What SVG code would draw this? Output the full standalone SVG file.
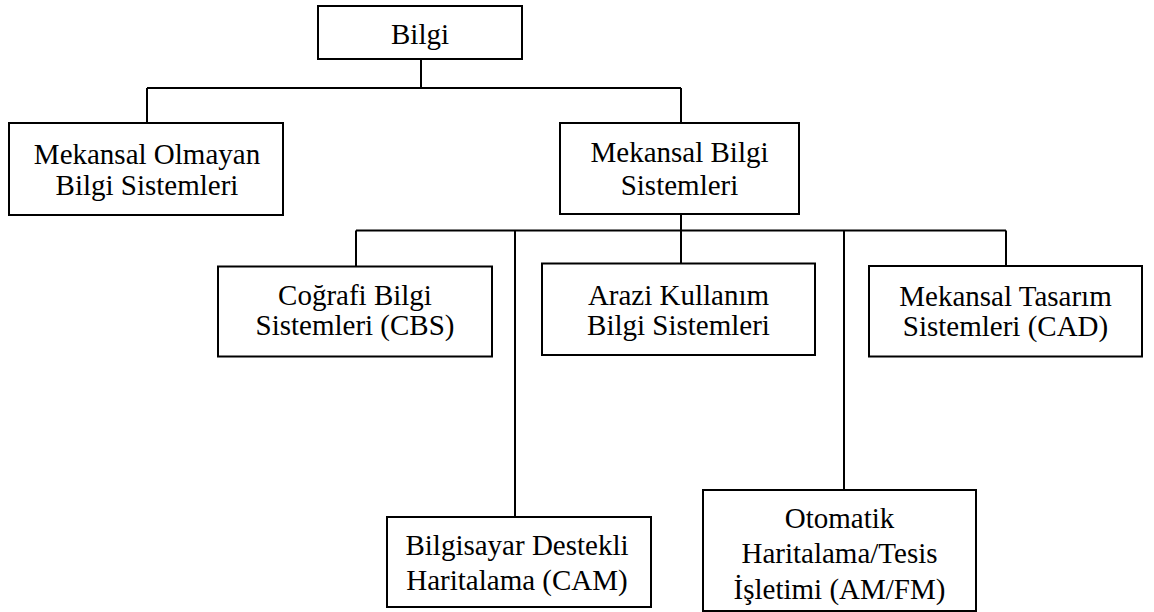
<svg xmlns="http://www.w3.org/2000/svg" width="1154" height="612" viewBox="0 0 1154 612">
  <style>
    .box { fill: #ffffff; stroke: #000000; stroke-width: 2; }
    .lbl { font-family: "Liberation Serif", "Times New Roman", serif; font-size: 29px; fill: #000000; text-anchor: middle; }
    .wire { fill: none; stroke: #000000; stroke-width: 2; }
  </style>
  <rect x="0" y="0" width="1154" height="612" fill="#ffffff"/>

  <!-- connectors -->
  <g id="connectors" class="wire">
    <path d="M421 59 V88"/>
    <path d="M147 88 H681"/>
    <path d="M147 88 V123"/>
    <path d="M681 88 V123"/>
    <path d="M681 214 V230.5"/>
    <path d="M356 230.5 H1006"/>
    <path d="M356 230.5 V266.5"/>
    <path d="M515 230.5 V517"/>
    <path d="M681 230.5 V263.5"/>
    <path d="M844 230.5 V490"/>
    <path d="M1006 230.5 V266"/>
  </g>

  <g id="bilgi">
    <rect class="box" x="318" y="6" width="204" height="53"/>
    <text class="lbl" x="420" y="44">Bilgi</text>
  </g>

  <g id="mekansal-olmayan">
    <rect class="box" x="9" y="123" width="274" height="92"/>
    <text class="lbl" x="147" y="164">Mekansal Olmayan</text>
    <text class="lbl" x="147" y="195">Bilgi Sistemleri</text>
  </g>

  <g id="mekansal-bilgi">
    <rect class="box" x="560" y="123" width="239" height="91"/>
    <text class="lbl" x="679.5" y="162">Mekansal Bilgi</text>
    <text class="lbl" x="679.5" y="195">Sistemleri</text>
  </g>

  <g id="cbs">
    <rect class="box" x="218" y="266.5" width="274" height="90"/>
    <text class="lbl" x="355" y="305">Coğrafi Bilgi</text>
    <text class="lbl" x="355" y="335">Sistemleri (CBS)</text>
  </g>

  <g id="arazi">
    <rect class="box" x="542" y="263.5" width="273" height="91.5"/>
    <text class="lbl" x="678.5" y="305">Arazi Kullanım</text>
    <text class="lbl" x="678.5" y="335">Bilgi Sistemleri</text>
  </g>

  <g id="cad">
    <rect class="box" x="869" y="266" width="273" height="90.5"/>
    <text class="lbl" x="1005.5" y="306">Mekansal Tasarım</text>
    <text class="lbl" x="1005.5" y="336">Sistemleri (CAD)</text>
  </g>

  <g id="cam">
    <rect class="box" x="387" y="517" width="264" height="90"/>
    <text class="lbl" x="517" y="555">Bilgisayar Destekli</text>
    <text class="lbl" x="517" y="590">Haritalama (CAM)</text>
  </g>

  <g id="amfm">
    <rect class="box" x="703" y="490" width="273" height="121"/>
    <text class="lbl" x="839.5" y="528">Otomatik</text>
    <text class="lbl" x="839.5" y="563">Haritalama/Tesis</text>
    <text class="lbl" x="839.5" y="599">İşletimi (AM/FM)</text>
  </g>
</svg>
